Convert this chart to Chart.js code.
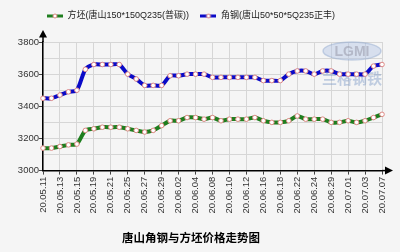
<!DOCTYPE html>
<html><head><meta charset="utf-8">
<script src="https://cdn.jsdelivr.net/npm/chart.js@4/dist/chart.umd.min.js"></script>
<style>html,body{margin:0;padding:0;background:#f5f5f5;overflow:hidden;}</style>
</head><body>
<canvas id="c" width="400" height="252"></canvas>
<script>
const dates = ['20.05.11','20.05.12','20.05.13','20.05.14','20.05.15','20.05.18','20.05.19','20.05.20','20.05.21','20.05.22',
  '20.05.25','20.05.26','20.05.27','20.05.28','20.05.29','20.06.01','20.06.02','20.06.03','20.06.04','20.06.05',
  '20.06.08','20.06.09','20.06.10','20.06.11','20.06.12','20.06.15','20.06.16','20.06.17','20.06.18','20.06.19',
  '20.06.22','20.06.23','20.06.24','20.06.28','20.06.29','20.06.30','20.07.01','20.07.02','20.07.03','20.07.06','20.07.07'];
const billet = [3140,3140,3150,3160,3165,3250,3260,3270,3270,3270,
  3260,3250,3240,3250,3280,3310,3310,3330,3330,3320,
  3330,3310,3320,3320,3320,3330,3310,3300,3300,3310,
  3340,3320,3320,3320,3300,3300,3310,3300,3310,3330,3350];
const angle = [3450,3450,3470,3490,3500,3630,3660,3660,3660,3660,
  3600,3570,3530,3530,3530,3590,3590,3600,3600,3600,
  3580,3580,3580,3580,3580,3580,3560,3560,3560,3600,
  3620,3620,3600,3620,3620,3600,3600,3600,3600,3650,3660];
const seriesNames = ['方坯(唐山150*150Q235(普碳))','角钢(唐山50*50*5Q235正丰)'];
const titleText = '唐山角钢与方坯价格走势图';
const yMin = 3000, yMax = 3800, yStep = 100, yLabelStep = 200;

const FONT = "'Liberation Sans', 'Noto Sans CJK SC', sans-serif";
const GREEN = '#1e7e1e', BLUE = '#0a0ac8', MARK = '#e08a86';

function marker(color){
  const c = document.createElement('canvas'); c.width = 16; c.height = 8;
  const g = c.getContext('2d');
  g.strokeStyle = color; g.lineWidth = 3;
  g.beginPath(); g.moveTo(0,4); g.lineTo(16,4); g.stroke();
  g.beginPath(); g.arc(8,4,2,0,Math.PI*2); g.fillStyle='#fff'; g.fill();
  g.strokeStyle = MARK; g.lineWidth = 1; g.stroke();
  return c;
}
const markers = [marker(GREEN), marker(BLUE)];

if (Chart.Legend && Chart.Legend._element) {
  const P = Chart.Legend._element.prototype; const f = P.fit;
  P.fit = function(){ f.call(this); if (this.options.display) this.height += 11.5; };
}

const bgPlugin = {
  id:'bg',
  beforeDraw(chart){ const ctx = chart.ctx; ctx.save(); ctx.fillStyle = '#f5f5f5'; ctx.fillRect(0,0,chart.width,chart.height); ctx.restore(); },
  beforeDatasetsDraw(chart){
    const ctx = chart.ctx, a = chart.chartArea;
    ctx.save();
    const cx = a.right - 30, cy = a.top + 9;
    ctx.globalAlpha = 0.45;
    ctx.beginPath(); ctx.ellipse(cx, cy, 29, 9, 0, 0, Math.PI*2);
    ctx.fillStyle = '#b4c6e6'; ctx.fill();
    ctx.strokeStyle = '#8fa6cc'; ctx.lineWidth = 1.5; ctx.stroke();
    ctx.fillStyle = '#8a8a9a'; ctx.font = "bold 14px " + FONT; ctx.textAlign = 'center'; ctx.textBaseline = 'middle';
    ctx.fillText('LGMI', cx, cy + 1);
    ctx.fillStyle = '#7f9cc8'; ctx.font = "bold 15px 'Noto Sans CJK SC', sans-serif";
    ctx.fillText('兰格钢铁', cx, cy + 27);
    ctx.restore();
  },
  afterDraw(chart){
    const ctx = chart.ctx, a = chart.chartArea;
    ctx.save(); ctx.fillStyle = '#000'; ctx.strokeStyle = '#000'; ctx.lineWidth = 1.5;
    ctx.beginPath(); ctx.moveTo(a.left, a.top); ctx.lineTo(a.left, a.top - 6); ctx.stroke();
    ctx.beginPath(); ctx.moveTo(a.left, a.top - 12); ctx.lineTo(a.left - 4, a.top - 4.5); ctx.lineTo(a.left + 4, a.top - 4.5); ctx.closePath(); ctx.fill();
    ctx.beginPath(); ctx.moveTo(a.right, a.bottom); ctx.lineTo(a.right + 4, a.bottom); ctx.stroke();
    ctx.beginPath(); ctx.moveTo(a.right + 11, a.bottom); ctx.lineTo(a.right + 3, a.bottom - 4); ctx.lineTo(a.right + 3, a.bottom + 4); ctx.closePath(); ctx.fill();
    ctx.restore();
  }
};

const common = { borderWidth: 4, pointRadius: 2.3, pointBorderWidth: 1, pointBackgroundColor: '#fff', pointBorderColor: MARK, tension: 0.25, fill: false };

new Chart(document.getElementById('c'), {
  type: 'line',
  data: {
    labels: dates,
    datasets: [
      Object.assign({ label: seriesNames[0], data: billet, borderColor: GREEN, backgroundColor: GREEN }, common),
      Object.assign({ label: seriesNames[1], data: angle, borderColor: BLUE, backgroundColor: BLUE }, common)
    ]
  },
  options: {
    responsive: false, animation: false, devicePixelRatio: 1,
    layout: { padding: { top: 0, left: 0, right: 18, bottom: 0 } },
    plugins: {
      legend: {
        position: 'top',
        labels: {
          usePointStyle: true, pointStyleWidth: 16, padding: 11.5, color: '#222',
          font: { size: 9, family: FONT },
          generateLabels: (chart) => chart.data.datasets.map((ds, i) => ({
            text: ds.label, pointStyle: markers[i], fillStyle: ds.borderColor, strokeStyle: ds.borderColor,
            lineWidth: 0, hidden: false, datasetIndex: i, fontColor: '#222'
          }))
        }
      },
      title: {
        display: true, position: 'bottom', text: titleText, color: '#000',
        font: { size: 11.5, weight: 'bold', family: "'Noto Sans CJK SC', sans-serif" },
        padding: { top: 0, bottom: 7 }
      },
      tooltip: { enabled: false }
    },
    scales: {
      x: {
        type: 'category', offset: false,
        grid: {
          color: (c) => (c.index % 2 === 0 ? '#d6d6d6' : 'rgba(0,0,0,0)'),
          tickColor: (c) => (c.index % 2 === 0 ? '#444' : 'rgba(0,0,0,0)'),
          tickLength: 4, lineWidth: 1
        },
        border: { color: '#000', width: 1.5 },
        ticks: {
          autoSkip: false, maxRotation: 90, minRotation: 90, padding: 2, color: '#333',
          font: { size: 9.5, family: FONT },
          callback: function(v, i){ return i % 2 === 0 ? this.getLabelForValue(v) : ''; }
        },
        afterFit: (s) => { s.height = 60.6; }
      },
      y: {
        min: yMin, max: yMax,
        grid: {
          color: '#d6d6d6', tickLength: 4,
          tickColor: (c) => (c.tick && c.tick.value % yLabelStep === 0 ? '#444' : 'rgba(0,0,0,0)')
        },
        border: { color: '#000', width: 1.5 },
        ticks: {
          stepSize: yStep, padding: 0, color: '#333',
          font: { size: 9.5, family: FONT },
          callback: (v) => (v % yLabelStep === 0 ? String(v) : '')
        },
        afterFit: (s) => { s.width = 43; }
      }
    }
  },
  plugins: [bgPlugin]
});
</script>
</body></html>
